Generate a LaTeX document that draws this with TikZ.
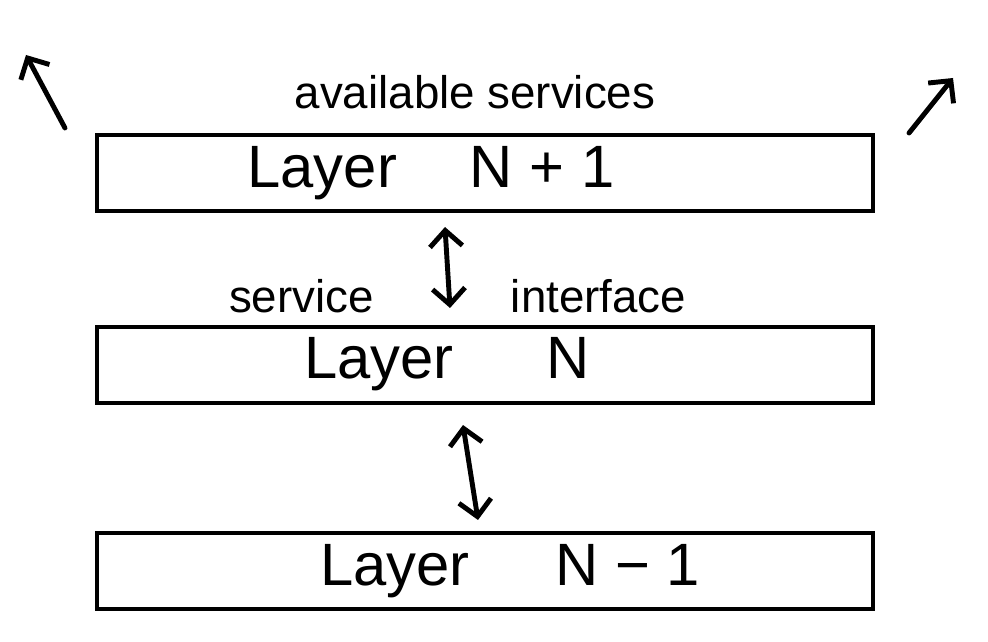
\documentclass[tikz,border=0pt]{standalone}
\usepackage{fontspec}
\setmainfont{Liberation Sans}
\usetikzlibrary{arrows.meta,calc}
\tikzset{
  layerbox/.style={draw, line width=2.3pt, minimum width=15.52cm, minimum height=1.52cm, inner sep=0pt},
  layertext/.style={font=\fontsize{34}{40}\selectfont},
  notetext/.style={font=\fontsize{26}{30}\selectfont},
  handarrow/.style={line width=2.8pt, line cap=round, line join=round, arrows={-Straight Barb[length=3.2mm,width=6.5mm,line width=2.8pt]}},
}
\begin{document}
\begin{tikzpicture}
  \useasboundingbox (0,0) rectangle (19.76,12.84);
  \node[layerbox] (upper) at (9.7,9.38) {};
  \node[layerbox] (middle) at (9.7,5.54) {};
  \node[layerbox] (lower) at (9.7,1.42) {};
  \node[layertext] (upperlbl) at (8.62,9.38) {Layer\hspace{1.46cm}N + 1};
  \node[layertext] (middlelbl) at (8.94,5.56) {Layer\hspace{1.86cm}N};
  \node[layertext] (lowerlbl) at (10.2,1.42) {Layer\hspace{1.72cm}N − 1};
  \node[notetext] (avail) at (9.5,11.0) {available services};
  \node[notetext] (svc) at (6.03,6.92) {service};
  \node[notetext] (intf) at (11.97,6.92) {interface};
  % interface arrows
  \draw[handarrow, {Straight Barb[length=3.2mm,width=6.5mm,line width=2.8pt]}-{Straight Barb[length=3.2mm,width=6.5mm,line width=2.8pt]}]
    ($(upper.south)+(-0.8,-0.28)$) -- ($(middle.north)+(-0.7,0.34)$);
  \draw[handarrow, {Straight Barb[length=3.2mm,width=6.5mm,line width=2.8pt]}-{Straight Barb[length=3.2mm,width=6.5mm,line width=2.8pt]}]
    ($(middle.south)+(-0.44,-0.4)$) -- ($(lower.north)+(-0.14,0.22)$);
  % services going up
  \coordinate (lefttip) at (0.52,11.74);
  \coordinate (righttip) at (19.06,11.28);
  \draw[handarrow] ($(upper.north west)+(-0.6,0.1)$) -- (lefttip);
  \draw[handarrow] ($(upper.north east)+(0.68,0.0)$) -- (righttip);
\end{tikzpicture}
\end{document}
